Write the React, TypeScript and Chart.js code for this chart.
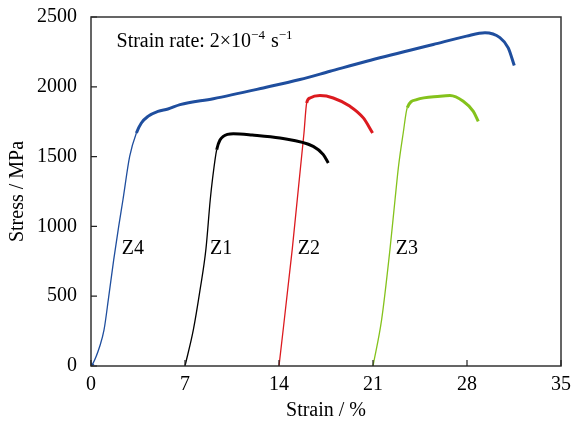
import React, { useEffect, useRef } from "react";
import { Chart, registerables } from "chart.js";

Chart.register(...registerables);

const FONT = "'Liberation Serif', 'Times New Roman', serif";

// Strain (%) / Stress (MPa) readings per specimen
const z4Strain = [0, 0.15, 0.64, 0.97, 1.32, 1.69, 2.06, 2.38, 2.88, 3.38, 3.75, 4.24, 4.99, 5.73, 6.63, 9.11, 12.83, 15.56, 17.8, 20.53, 25.49, 27.97, 29.34, 30.45, 31.07, 31.52];
const z4Stress = [0, 19, 138, 258, 497, 760, 999, 1191, 1501, 1669, 1741, 1788, 1824, 1841, 1872, 1915, 1992, 2052, 2111, 2183, 2303, 2363, 2387, 2352, 2279, 2152];

const z1Strain = [7.0, 7.62, 8.12, 8.56, 8.88, 9.05, 9.36, 9.85, 10.6, 12.0, 14.07, 16.55, 17.3, 17.67];
const z1Stress = [0, 258, 545, 839, 1191, 1340, 1549, 1645, 1664, 1655, 1633, 1573, 1514, 1454];

const z2Strain = [14.0, 14.99, 15.86, 16.06, 16.31, 17.05, 18.04, 19.29, 20.28, 20.97];
const z2Stress = [0, 839, 1669, 1884, 1920, 1937, 1920, 1860, 1777, 1669];

const z3Strain = [21.0, 21.64, 22.26, 22.64, 22.9, 23.25, 23.55, 24.25, 26.0, 26.73, 27.72, 28.47, 28.84];
const z3Stress = [0, 330, 832, 1191, 1430, 1669, 1850, 1908, 1932, 1937, 1896, 1824, 1752];

const seriesNames = ["Z4", "Z1", "Z2", "Z3"];
const seriesColors = ["#1f4e9e", "#000000", "#dc1a1f", "#84c21c"];

// curve label anchors (left edge of text, vertical centre)
const labelStrain = [2.29, 8.86, 15.39, 22.69];
const labelStress = [839, 839, 839, 839];

const xTicks = [0, 7, 14, 21, 28, 35];
const yTicks = [0, 500, 1000, 1500, 2000, 2500];

const xTitle = "Strain / %";
const yTitle = "Stress / MPa";
const noteParts = ["Strain rate: 2×10", "−4", " s", "−1"];
const noteStrain = 1.9;
const noteStress = 2288;

function toPoints(xs: number[], ys: number[]) {
  return xs.map((x, i) => ({ x, y: ys[i] }));
}

const decorPlugin = {
  id: "decor",
  afterDraw(chart: any) {
    const { ctx, chartArea, scales } = chart;
    const xs = scales.x;
    const ys = scales.y;
    ctx.save();
    // frame
    ctx.strokeStyle = "#333";
    ctx.lineWidth = 1.5;
    ctx.strokeRect(chartArea.left, chartArea.top, chartArea.right - chartArea.left, chartArea.bottom - chartArea.top);
    // inward ticks
    ctx.lineWidth = 1.2;
    ctx.strokeStyle = "#222";
    ctx.beginPath();
    xTicks.forEach((v) => {
      const px = xs.getPixelForValue(v);
      ctx.moveTo(px, chartArea.bottom);
      ctx.lineTo(px, chartArea.bottom - 6);
    });
    yTicks.forEach((v) => {
      const py = ys.getPixelForValue(v);
      ctx.moveTo(chartArea.left, py);
      ctx.lineTo(chartArea.left + 6, py);
    });
    ctx.stroke();

    ctx.fillStyle = "#000";
    // curve labels
    ctx.font = `20px ${FONT}`;
    ctx.textAlign = "left";
    ctx.textBaseline = "middle";
    seriesNames.forEach((n, i) => {
      ctx.fillText(n, xs.getPixelForValue(labelStrain[i]), ys.getPixelForValue(labelStress[i]));
    });

    // axis titles
    ctx.textAlign = "center";
    ctx.fillText(xTitle, (chartArea.left + chartArea.right) / 2, 411);
    ctx.save();
    ctx.translate(18, (chartArea.top + chartArea.bottom) / 2);
    ctx.rotate(-Math.PI / 2);
    ctx.fillText(yTitle, 0, 0);
    ctx.restore();

    // strain-rate note with superscripts
    ctx.textAlign = "left";
    ctx.textBaseline = "alphabetic";
    let x = xs.getPixelForValue(noteStrain);
    const y = ys.getPixelForValue(noteStress);
    noteParts.forEach((p, i) => {
      const sup = i % 2 === 1;
      ctx.font = sup ? `13px ${FONT}` : `20px ${FONT}`;
      ctx.fillText(p, x, sup ? y - 8 : y);
      x += ctx.measureText(p).width + (sup ? 1 : 0);
    });
    ctx.restore();
  },
};

export default function App() {
  const ref = useRef<HTMLCanvasElement | null>(null);

  useEffect(() => {
    document.body.style.margin = "0";
    const canvas = ref.current;
    if (!canvas) return;
    const allStrain = [z4Strain, z1Strain, z2Strain, z3Strain];
    const allStress = [z4Stress, z1Stress, z2Stress, z3Stress];
    const chart = new Chart(canvas, {
      type: "line",
      data: {
        datasets: seriesNames.map((name, i) => ({
          label: name,
          data: toPoints(allStrain[i], allStress[i]),
          borderColor: seriesColors[i],
          backgroundColor: seriesColors[i],
          pointRadius: 0,
          fill: false,
          cubicInterpolationMode: "monotone" as const,
          borderWidth: 1.3,
          segment: {
            // thin on the steep elastic rise, thick (noisy band) in the plastic part
            borderWidth: (c: any) =>
              c.p0.y - c.p1.y > 2.5 * Math.abs(c.p1.x - c.p0.x) ? 1.3 : 3,
          },
        })),
      },
      options: {
        animation: false,
        responsive: true,
        maintainAspectRatio: false,
        layout: { padding: { left: 0, right: 12, top: 17, bottom: 0 } },
        plugins: { legend: { display: false }, tooltip: { enabled: false } },
        scales: {
          x: {
            type: "linear",
            min: 0,
            max: 35,
            afterBuildTicks: (s: any) => {
              s.ticks = xTicks.map((v) => ({ value: v }));
            },
            afterFit: (s: any) => {
              s.height = 55;
              s.paddingLeft = 0;
              s.paddingRight = 0;
            },
            grid: { display: false, drawTicks: false },
            border: { display: false },
            ticks: {
              color: "#000",
              padding: 7,
              font: { family: FONT, size: 20 },
              maxRotation: 0,
              callback: (v: any) => String(v),
            },
          },
          y: {
            type: "linear",
            min: 0,
            max: 2500,
            afterBuildTicks: (s: any) => {
              s.ticks = yTicks.map((v) => ({ value: v }));
            },
            afterFit: (s: any) => {
              s.width = 91;
              s.paddingTop = 0;
              s.paddingBottom = 0;
            },
            grid: { display: false, drawTicks: false },
            border: { display: false },
            ticks: {
              color: "#000",
              padding: 14,
              font: { family: FONT, size: 20 },
              callback: (v: any) => String(v),
            },
          },
        },
      },
      plugins: [decorPlugin],
    });
    return () => chart.destroy();
  }, []);

  return (
    <div style={{ position: "absolute", left: 0, top: 0, width: 573, height: 421 }}>
      <canvas ref={ref} />
    </div>
  );
}
